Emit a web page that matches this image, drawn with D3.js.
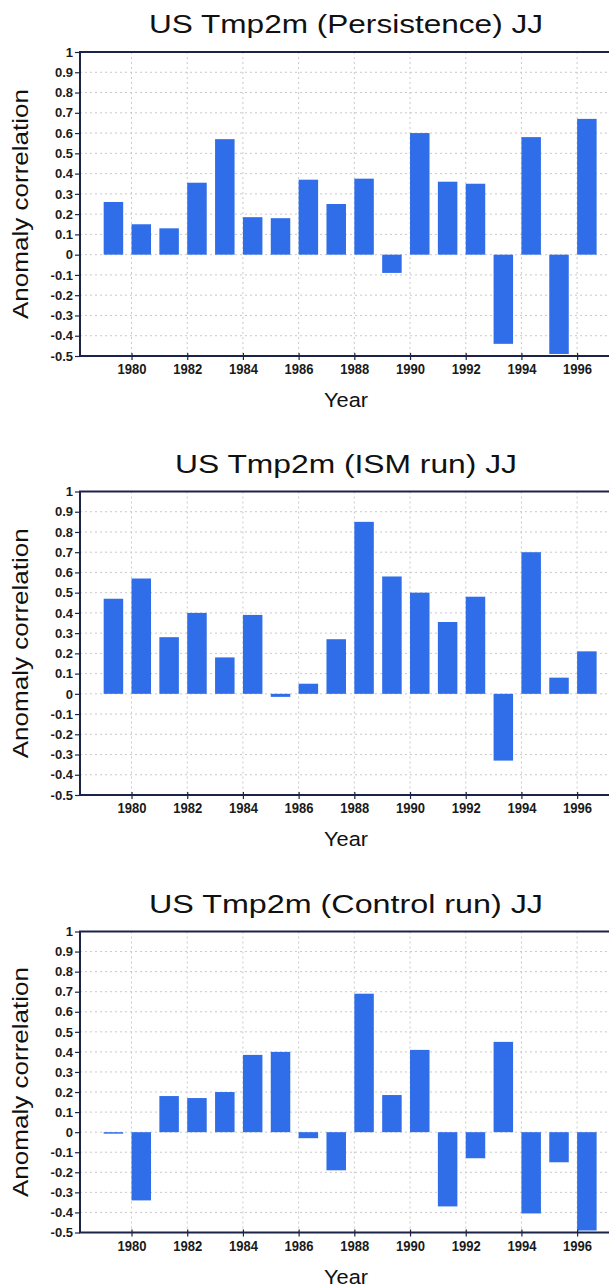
<!DOCTYPE html>
<html>
<head>
<meta charset="utf-8">
<script src="https://cdn.jsdelivr.net/npm/d3@7"></script>
<style>
  html, body { margin: 0; padding: 0; background: #ffffff; }
  svg { display: block; }
</style>
</head>
<body>
<svg id="chart" width="609" height="1287"></svg>
<script>
// ---------------- DATA ----------------
const years = [1979,1980,1981,1982,1983,1984,1985,1986,1987,1988,1989,1990,1991,1992,1993,1994,1995,1996];
const persistence = [0.26,0.15,0.13,0.355,0.57,0.185,0.18,0.37,0.25,0.375,-0.09,0.60,0.36,0.35,-0.44,0.58,-0.49,0.67];
const ismRun = [0.47,0.57,0.28,0.40,0.18,0.39,-0.015,0.05,0.27,0.85,0.58,0.50,0.355,0.48,-0.33,0.70,0.08,0.21];
const controlRun = [-0.006,-0.34,0.18,0.17,0.20,0.385,0.40,-0.03,-0.19,0.69,0.185,0.41,-0.37,-0.13,0.45,-0.405,-0.15,-0.49];
const titles = ["US Tmp2m (Persistence) JJ", "US Tmp2m (ISM run) JJ", "US Tmp2m (Control run) JJ"];
const yTickValues = [1,0.9,0.8,0.7,0.6,0.5,0.4,0.3,0.2,0.1,0,-0.1,-0.2,-0.3,-0.4,-0.5];
const yTickLabels = ["1","0.9","0.8","0.7","0.6","0.5","0.4","0.3","0.2","0.1","0","-0.1","-0.2","-0.3","-0.4","-0.5"];
const xTickValues = [1980,1982,1984,1986,1988,1990,1992,1994,1996];
const xTickLabels = ["1980","1982","1984","1986","1988","1990","1992","1994","1996"];
const yLabel = "Anomaly correlation";
const xLabel = "Year";
const seriesList = [persistence, ismRun, controlRun];

// ---------------- LAYOUT ----------------
const panels = [
  { top: 52,    height: 304 },
  { top: 491.5, height: 303.5 },
  { top: 931.5, height: 301 }
];
const titleWidths = [394, 342, 394];
const plotLeft = 80;
const plotRight = 637;     // frame continues past the picture's right edge
const barColor = "#2f6ee8";
const frameColor = "#1b2346";
const gridColor = "#c9c9c9";
const fontFam = "'Liberation Sans', Arial, sans-serif";

const svg = d3.select("#chart");

const x = d3.scaleLinear().domain([1978.15, 1998.15]).range([plotLeft, plotRight]);
const barW = 0.7;

panels.forEach((p, i) => {
  const data = years.map((yr, k) => ({ year: yr, value: seriesList[i][k] }));
  const y = d3.scaleLinear().domain([-0.5, 1]).range([p.top + p.height, p.top]);
  const g = svg.append("g");

  // Title
  g.append("text")
    .attr("x", 346).attr("y", p.top - 19)
    .attr("text-anchor", "middle")
    .attr("font-family", fontFam)
    .attr("font-size", 25.5)
    .attr("fill", "#111")
    .attr("textLength", titleWidths[i])
    .attr("lengthAdjust", "spacingAndGlyphs")
    .text(titles[i]);

  // Grid
  const gridG = g.append("g").attr("stroke", gridColor).attr("stroke-width", 1)
    .attr("stroke-dasharray", "2,3");
  gridG.selectAll("line.h").data(yTickValues.filter(v => v > -0.5 && v < 1))
    .join("line")
    .attr("x1", plotLeft).attr("x2", plotRight)
    .attr("y1", d => y(d)).attr("y2", d => y(d));
  gridG.selectAll("line.v").data(xTickValues)
    .join("line")
    .attr("x1", d => x(d)).attr("x2", d => x(d))
    .attr("y1", p.top).attr("y2", p.top + p.height);

  // Bars
  g.append("g").selectAll("rect").data(data).join("rect")
    .attr("x", d => x(d.year))
    .attr("width", d => x(d.year + barW) - x(d.year))
    .attr("y", d => y(Math.max(0, d.value)))
    .attr("height", d => Math.max(1.5, Math.abs(y(d.value) - y(0))))
    .attr("fill", barColor);

  // Y axis
  const yAxis = d3.axisLeft(y)
    .tickValues(yTickValues)
    .tickSize(5)
    .tickPadding(2)
    .tickFormat(d => yTickLabels[yTickValues.indexOf(d)]);
  const ya = g.append("g").attr("transform", `translate(${plotLeft},0)`).call(yAxis);
  ya.select(".domain").remove();
  ya.selectAll("line").attr("stroke", frameColor).attr("stroke-width", 1.2);
  ya.selectAll("text")
    .attr("font-family", fontFam).attr("font-size", 13)
    .attr("font-weight", "bold").attr("fill", "#1a1a1a");

  // X axis
  const xAxis = d3.axisBottom(x)
    .tickValues(xTickValues)
    .tickSize(4)
    .tickPadding(3)
    .tickFormat(d => xTickLabels[xTickValues.indexOf(d)]);
  const xa = g.append("g").attr("transform", `translate(0,${p.top + p.height})`).call(xAxis);
  xa.select(".domain").remove();
  xa.selectAll("line").attr("stroke", frameColor).attr("stroke-width", 1.2).attr("y1", -3);
  xa.selectAll("text")
    .attr("font-family", fontFam).attr("font-size", 15.5)
    .attr("font-weight", "bold").attr("fill", "#1a1a1a")
    .attr("textLength", 29).attr("lengthAdjust", "spacingAndGlyphs");

  // Frame
  g.append("rect")
    .attr("x", plotLeft).attr("y", p.top)
    .attr("width", plotRight - plotLeft).attr("height", p.height)
    .attr("fill", "none").attr("stroke", frameColor).attr("stroke-width", 2);

  // Y label
  g.append("text")
    .attr("transform", `translate(28,${p.top + p.height / 2}) rotate(-90)`)
    .attr("text-anchor", "middle")
    .attr("font-family", fontFam)
    .attr("font-size", 21.5)
    .attr("fill", "#111")
    .attr("textLength", 230).attr("lengthAdjust", "spacingAndGlyphs")
    .text(yLabel);

  // X label
  g.append("text")
    .attr("x", 346).attr("y", p.top + p.height + 51)
    .attr("text-anchor", "middle")
    .attr("font-family", fontFam)
    .attr("font-size", 20.5)
    .attr("fill", "#111")
    .attr("textLength", 44).attr("lengthAdjust", "spacingAndGlyphs")
    .text(xLabel);
});
</script>
</body>
</html>
